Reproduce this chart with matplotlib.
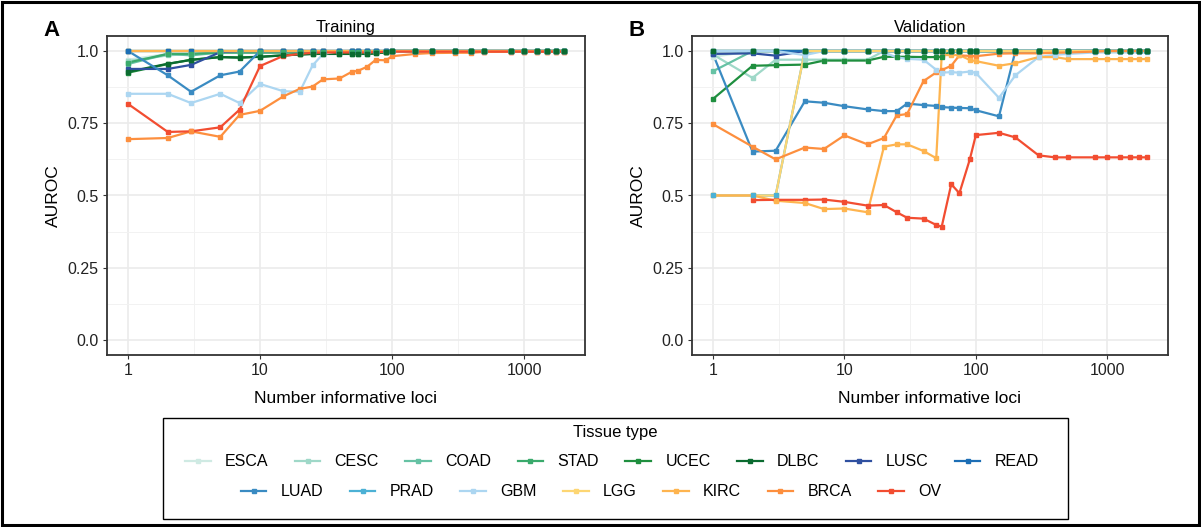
import numpy as np
import matplotlib.pyplot as plt
from matplotlib.lines import Line2D
from matplotlib.patches import Rectangle
from matplotlib.ticker import FixedLocator, NullFormatter

plt.rcParams['font.family'] = ['Liberation Sans', 'DejaVu Sans']

loci = [1, 2, 3, 5, 7, 10, 15, 20, 25, 30, 40, 50, 55, 65, 75, 90, 100,
        150, 200, 300, 400, 500, 800, 1000, 1250, 1500, 1750, 2000]

tissues = ['ESCA', 'CESC', 'COAD', 'STAD', 'UCEC', 'DLBC', 'LUSC', 'READ',
           'LUAD', 'PRAD', 'GBM', 'LGG', 'KIRC', 'BRCA', 'OV']
colors = ['#cfeae3', '#9fd8c8', '#66c2a4', '#3aaa6c', '#1f8f3f', '#0b6b30',
          '#2f50a0', '#1c6eb5', '#3a8bc2', '#4cb1d5', '#acd6f1', '#fdd673',
          '#feb44f', '#fd8f3e', '#f24d31']
# order in which the square markers are stacked (last on top)
point_order = ['ESCA', 'CESC', 'COAD', 'OV', 'BRCA', 'KIRC', 'LGG', 'GBM',
               'PRAD', 'LUAD', 'LUSC', 'READ', 'STAD', 'UCEC', 'DLBC']

nan = np.nan
ones = [1.0] * 28

train = {
    'ESCA': [0.97, 0.99, 0.99] + [1.0] * 25,
    'CESC': [0.965, 0.985, 0.99] + [0.995] * 13 + [1.0] * 12,
    'COAD': [0.955, 0.99, 0.985] + [0.995] * 13 + [1.0] * 12,
    'STAD': [0.96, 0.99, 0.99] + [0.995] * 13 + [1.0] * 12,
    'UCEC': [0.925, 0.955, 0.97, 0.979, 0.978, 0.98, 0.985, 0.988, 0.99, 0.99,
             0.99, 0.99, 0.99, 0.99, 0.992, 0.995] + [1.0] * 12,
    'DLBC': [0.928, 0.956, 0.969, 0.979, 0.977, 0.98, 0.985, 0.988, 0.99, 0.99,
             0.99, 0.99, 0.99, 0.99, 0.992, 0.996] + [1.0] * 12,
    'LUSC': [0.938, 0.938, 0.952, 0.996] + [1.0] * 24,
    'READ': ones,
    'LUAD': [1.0, 0.916, 0.859, 0.916, 0.929] + [1.0] * 23,
    'PRAD': ones,
    'GBM': [0.852, 0.852, 0.82, 0.852, 0.82, 0.886, 0.861, 0.859, 0.95, 0.99]
           + [1.0] * 18,
    'LGG': ones,
    'KIRC': ones,
    'BRCA': [0.695, 0.699, 0.722, 0.703, 0.779, 0.793, 0.843, 0.869, 0.877,
             0.902, 0.905, 0.929, 0.931, 0.946, 0.969, 0.968, 0.982, 0.99,
             0.993, 0.994, 0.994, 0.997, 0.998, 0.998, 0.998, 0.998, 0.998,
             0.998],
    'OV': [0.817, 0.72, 0.722, 0.736, 0.797, 0.948, 0.983, 0.99, 0.994, 0.995,
           0.995, 0.995, 0.995, 0.995, 0.996, 0.997] + [0.998] * 12,
}

valid = {
    'ESCA': [0.98] + [1.0] * 27,
    'CESC': [0.988, 0.907, 0.97, 0.97, 0.97, 0.97, 0.97] + [1.0] * 21,
    'COAD': [0.93] + [1.0] * 27,
    'STAD': ones,
    'UCEC': [0.834, 0.949, 0.951, 0.953, 0.967, 0.967, 0.967, 0.98, 0.98,
             0.98, 0.979, 0.979, 0.98] + [1.0] * 15,
    'DLBC': ones,
    'LUSC': [0.99, 0.992, 0.984] + [1.0] * 25,
    'READ': ones,
    'LUAD': [0.99, 0.652, 0.655, 0.826, 0.821, 0.809, 0.798, 0.792, 0.792,
             0.818, 0.813, 0.81, 0.806, 0.804, 0.803, 0.802, 0.795, 0.774]
            + [1.0] * 10,
    'PRAD': [0.5, 0.5, 0.5] + [1.0] * 25,
    'GBM': [1.0, 1.0, 1.0, 0.986, 1.0, 1.0, 1.0, 0.995, 0.978, 0.973, 0.97,
            0.935, 0.925, 0.927, 0.925, 0.929, 0.924, 0.838, 0.916, 0.979,
            0.987, 0.99, 0.995, 0.995, 0.995, 0.995, 0.995, 0.995],
    'LGG': [0.5, 0.5, 0.5] + [1.0] * 25,
    'KIRC': [0.5, 0.5, 0.482, 0.474, 0.453, 0.455, 0.442, 0.669, 0.677, 0.677,
             0.654, 0.629, 0.986, 0.986, 0.986, 0.969, 0.965, 0.949, 0.958,
             0.979, 0.979] + [0.972] * 7,
    'BRCA': [0.747, 0.669, 0.625, 0.666, 0.661, 0.708, 0.677, 0.699, 0.777,
             0.782, 0.896, 0.926, 0.934, 0.949, 0.985, 0.983, 0.982, 0.991,
             0.992, 0.992, 0.994, 0.995, 0.998, 1.0, 1.0, 1.0, 1.0, 1.0],
    'OV': [nan, 0.484, 0.485, 0.485, 0.486, 0.478, 0.465, 0.467, 0.442, 0.423,
           0.42, 0.398, 0.392, 0.539, 0.508, 0.625, 0.709, 0.717, 0.701,
           0.639] + [0.632] * 8,
}

W, H = 1201, 527
fig = plt.figure(figsize=(W / 100, H / 100), dpi=100)
fig.patches.append(Rectangle((2 / W, 2 / H), 1 - 4 / W, 1 - 4 / H,
                             transform=fig.transFigure, fill=False,
                             edgecolor='black', linewidth=2.2))
color_of = dict(zip(tissues, colors))


def make_panel(left, right, data, title, letter):
    ax = fig.add_axes([left / W, 1 - 355 / H, (right - left) / W, 319 / H])
    # lines first, then the points on top (as in ggplot line + point layers)
    for name in tissues:
        ax.plot(loci, data[name], color=color_of[name], lw=1.6, zorder=2)
    for name in point_order:
        ax.plot(loci, data[name], ls='none', marker='s', ms=3.4,
                color=color_of[name], zorder=3)
    ax.set_xscale('log')
    ax.set_xlim(0.693, 2897)
    ax.set_ylim(-0.052, 1.052)
    ax.xaxis.set_major_locator(FixedLocator([1, 10, 100, 1000]))
    ax.xaxis.set_minor_locator(FixedLocator([10 ** 0.5, 10 ** 1.5, 10 ** 2.5]))
    ax.xaxis.set_minor_formatter(NullFormatter())
    ax.set_xticklabels(['1', '10', '100', '1000'])
    ax.set_yticks([0, 0.25, 0.5, 0.75, 1.0])
    ax.set_yticklabels(['0.0', '0.25', '0.5', '0.75', '1.0'])
    ax.set_yticks([0.125, 0.375, 0.625, 0.875], minor=True)
    ax.grid(True, which='major', color='#ebebeb', lw=1.2)
    ax.grid(True, which='minor', color='#f2f2f2', lw=0.7)
    ax.set_axisbelow(True)
    ax.tick_params(which='major', length=3, width=0.8, color='#333333',
                   labelsize=11.5, labelcolor='#222222', pad=3)
    ax.tick_params(which='minor', length=0)
    for s in ax.spines.values():
        s.set_color('#333333')
        s.set_linewidth(1.3)
    ax.set_title(title, fontsize=12, pad=3)
    ax.set_xlabel('Number informative loci', fontsize=12.5, labelpad=9)
    ax.set_ylabel('AUROC', fontsize=12.5, labelpad=5)
    fig.text((left - 64) / W, 1 - 31 / H, letter, fontsize=16,
             fontweight='bold', ha='left', va='center')
    return ax


make_panel(107, 585, train, 'Training', 'A')
make_panel(692, 1168, valid, 'Validation', 'B')

# legend box
fig.patches.append(Rectangle((163 / W, 1 - 519 / H), 905 / W, 101 / H,
                             transform=fig.transFigure, fill=False,
                             edgecolor='black', linewidth=1.0))
fig.text(615 / W, 1 - 432 / H, 'Tissue type', fontsize=12,
         ha='center', va='center')

handles = [Line2D([], [], color=c, lw=1.6, marker='s', ms=3.4) for c in colors]
leg_kw = dict(loc='center', frameon=False, fontsize=11.5, handlelength=1.6,
              handletextpad=0.9, columnspacing=1.65, borderpad=0,
              borderaxespad=0)
fig.legend(handles[:8], tissues[:8], ncol=8,
           bbox_to_anchor=(612 / W, 1 - 462 / H), **leg_kw)
fig.legend(handles[8:], tissues[8:], ncol=7,
           bbox_to_anchor=(591 / W, 1 - 492 / H), **leg_kw)

fig.savefig('out.png', dpi=100)
